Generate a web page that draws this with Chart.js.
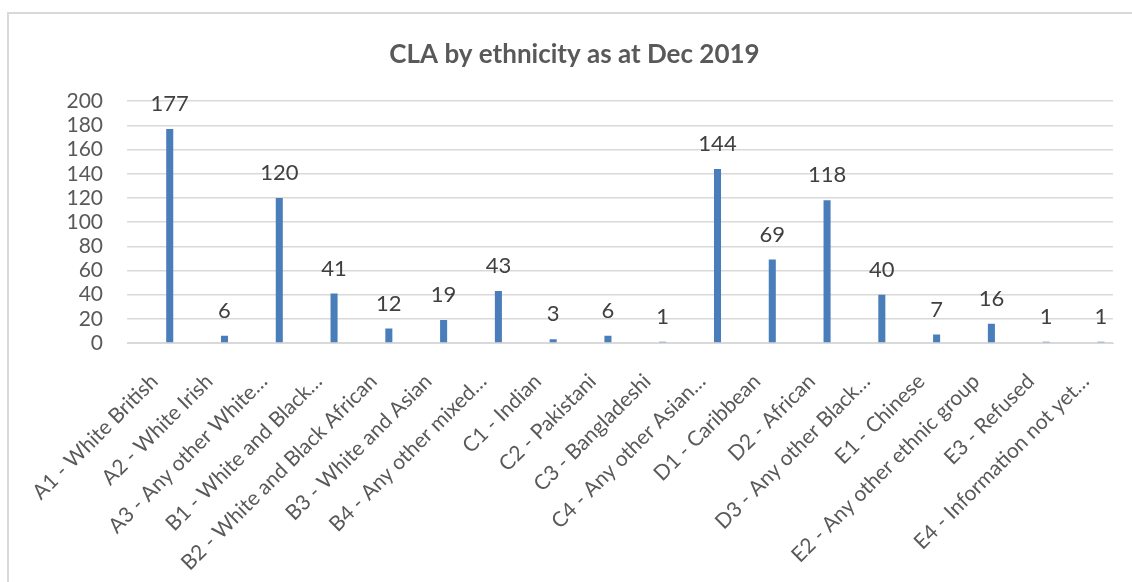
<!DOCTYPE html>
<html>
<head>
<meta charset="utf-8">
<script src="https://cdn.jsdelivr.net/npm/chart.js@4"></script>
<style>
  html, body { margin: 0; padding: 0; background: #fff; overflow: hidden; }
  #frame { position: absolute; left: 7px; top: 12px; width: 1140px; height: 600px; border: 2px solid #d9d9d9; box-sizing: border-box; }
  #wrap { position: absolute; left: 0; top: 0; width: 1132px; height: 582px; }
</style>
</head>
<body>
<div id="frame"></div>
<div id="wrap"><canvas id="chart" width="1132" height="582"></canvas></div>
<script>
// data
const categories = [
  'A1 - White British', 'A2 - White Irish', 'A3 - Any other White…',
  'B1 - White and Black…', 'B2 - White and Black African', 'B3 - White and Asian',
  'B4 - Any other mixed…', 'C1 - Indian', 'C2 - Pakistani', 'C3 - Bangladeshi',
  'C4 - Any other Asian…', 'D1 - Caribbean', 'D2 - African', 'D3 - Any other Black…',
  'E1 - Chinese', 'E2 - Any other ethnic group', 'E3 - Refused', 'E4 - Information not yet…'
];
const cla = [177, 6, 120, 41, 12, 19, 43, 3, 6, 1, 144, 69, 118, 40, 7, 16, 1, 1];
// the source chart has two empty series before the real one, which shifts bars right
const emptySeries = categories.map(() => null);
const yTicks = [0, 20, 40, 60, 80, 100, 120, 140, 160, 180, 200];

const txt = '#595959';
const fontFam = 'Lato, "Open Sans", sans-serif';

// value labels above the bars
const barLabels = {
  id: 'barLabels',
  afterDatasetsDraw(chart) {
    const ctx = chart.ctx;
    const meta = chart.getDatasetMeta(2);
    ctx.save();
    ctx.font = '22px ' + fontFam;
    ctx.fillStyle = '#404040';
    ctx.textAlign = 'center';
    ctx.textBaseline = 'middle';
    meta.data.forEach((bar, i) => {
      ctx.fillText(String(cla[i]), bar.x, bar.y - 25);
    });
    ctx.restore();
  }
};

new Chart(document.getElementById('chart'), {
  type: 'bar',
  data: {
    labels: categories,
    datasets: [
      { label: '', data: emptySeries },
      { label: '', data: emptySeries },
      {
        label: 'CLA',
        data: cla,
        backgroundColor: '#4a7ebb'
      }
    ]
  },
  options: {
    responsive: false,
    animation: false,
    devicePixelRatio: 1,
    categoryPercentage: 0.84,
    barPercentage: 0.46,
    layout: { padding: { left: 36, right: 19, top: 0, bottom: 0 } },
    plugins: {
      legend: { display: false },
      tooltip: { enabled: false },
      title: {
        display: true,
        text: 'CLA by ethnicity as at Dec 2019',
        color: txt,
        font: { family: fontFam, size: 26, weight: 'bold' },
        padding: { top: 39, bottom: 31 }
      }
    },
    scales: {
      x: {
        grid: { display: false },
        border: { color: '#d9d9d9' },
        ticks: {
          color: txt,
          font: { family: fontFam, size: 21 },
          autoSkip: false,
          minRotation: 45,
          maxRotation: 45,
          padding: 18
        },
        afterFit(scale) { scale.height = 239; }
      },
      y: {
        min: 0,
        max: 200,
        afterBuildTicks(scale) { scale.ticks = yTicks.map(v => ({ value: v })); },
        grid: { color: '#d9d9d9', lineWidth: 1.5, drawTicks: false },
        border: { display: false },
        ticks: {
          color: txt,
          font: { family: fontFam, size: 21 },
          autoSkip: false,
          padding: 24
        },
        afterFit(scale) { scale.width = 91; }
      }
    }
  },
  plugins: [barLabels]
});
</script>
</body>
</html>
